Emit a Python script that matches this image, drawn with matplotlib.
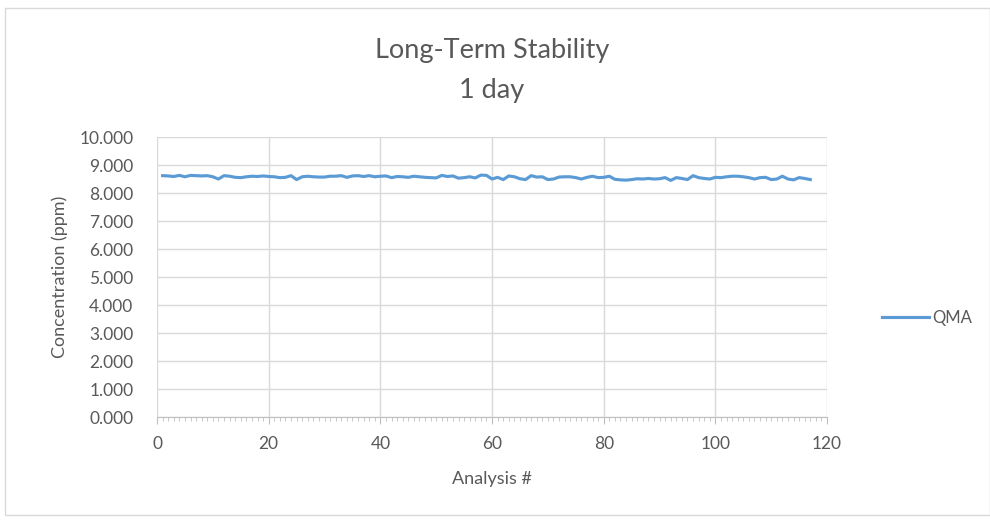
import matplotlib.pyplot as plt
from matplotlib.patches import Rectangle
from matplotlib.ticker import FormatStrFormatter, MultipleLocator
import numpy as np

plt.rcParams['font.family'] = ['Lato', 'DejaVu Sans']

analysis = np.arange(1, 118)
qma = [8.62, 8.61, 8.59, 8.63, 8.58, 8.63, 8.62, 8.61, 8.62, 8.58,
       8.50, 8.62, 8.60, 8.56, 8.55, 8.58, 8.60, 8.59, 8.61, 8.59,
       8.58, 8.55, 8.56, 8.62, 8.48, 8.58, 8.60, 8.58, 8.57, 8.57,
       8.60, 8.60, 8.62, 8.56, 8.61, 8.62, 8.59, 8.62, 8.58, 8.60,
       8.61, 8.55, 8.59, 8.58, 8.56, 8.60, 8.58, 8.56, 8.55, 8.54,
       8.63, 8.59, 8.61, 8.53, 8.55, 8.58, 8.54, 8.64, 8.63, 8.50,
       8.56, 8.48, 8.61, 8.58, 8.51, 8.48, 8.62, 8.57, 8.58, 8.48,
       8.50, 8.57, 8.58, 8.58, 8.55, 8.50, 8.56, 8.60, 8.55, 8.56,
       8.60, 8.49, 8.47, 8.46, 8.48, 8.51, 8.50, 8.52, 8.50, 8.51,
       8.55, 8.45, 8.55, 8.52, 8.48, 8.62, 8.55, 8.52, 8.50, 8.56,
       8.55, 8.58, 8.60, 8.60, 8.58, 8.55, 8.50, 8.55, 8.56, 8.48,
       8.50, 8.60, 8.50, 8.47, 8.55, 8.52, 8.48]

text_color = '#595959'
grid_color = '#D9D9D9'

fig = plt.figure(figsize=(9.9, 5.2), dpi=100)
ax = fig.add_axes([0.1586, 0.198, 0.6768, 0.5385])

ax.plot(analysis, qma, color='#5B9BD5', linewidth=2.25, label='QMA')

ax.set_xlim(0, 120)
ax.set_ylim(0, 10)
ax.xaxis.set_major_locator(MultipleLocator(20))
ax.xaxis.set_minor_locator(MultipleLocator(1))
ax.yaxis.set_major_locator(MultipleLocator(1))
ax.yaxis.set_major_formatter(FormatStrFormatter('%.3f'))

ax.grid(True, which='major', color=grid_color, linewidth=1)
ax.set_axisbelow(True)
for side in ['top', 'right', 'left']:
    ax.spines[side].set_visible(False)
ax.spines['bottom'].set_color('#BFBFBF')

ax.tick_params(axis='x', which='major', length=5, color='#BFBFBF',
               labelsize=12.5, labelcolor=text_color, pad=9)
ax.tick_params(axis='x', which='minor', length=3, color='#BFBFBF')
ax.tick_params(axis='y', length=0, labelsize=12.5, labelcolor=text_color, pad=17)

ax.set_xlabel('Analysis #', fontsize=13, color=text_color, labelpad=13)
ax.set_ylabel('Concentration (ppm)', fontsize=13, color=text_color, labelpad=8)

fig.text(0.497, 0.902, 'Long-Term Stability', ha='center', va='center',
         fontsize=19.5, color=text_color)
fig.text(0.497, 0.826, '1 day', ha='center', va='center',
         fontsize=19.5, color=text_color)

fig.legend(loc='center left', bbox_to_anchor=(0.876, 0.388), frameon=False,
           fontsize=12, labelcolor=text_color, handlelength=2.8,
           handletextpad=0.2)

fig.patches.append(Rectangle((0.005, 0.01), 0.995, 0.975,
                             transform=fig.transFigure, fill=False,
                             edgecolor=grid_color, linewidth=1))

fig.savefig('out.png', dpi=100)
